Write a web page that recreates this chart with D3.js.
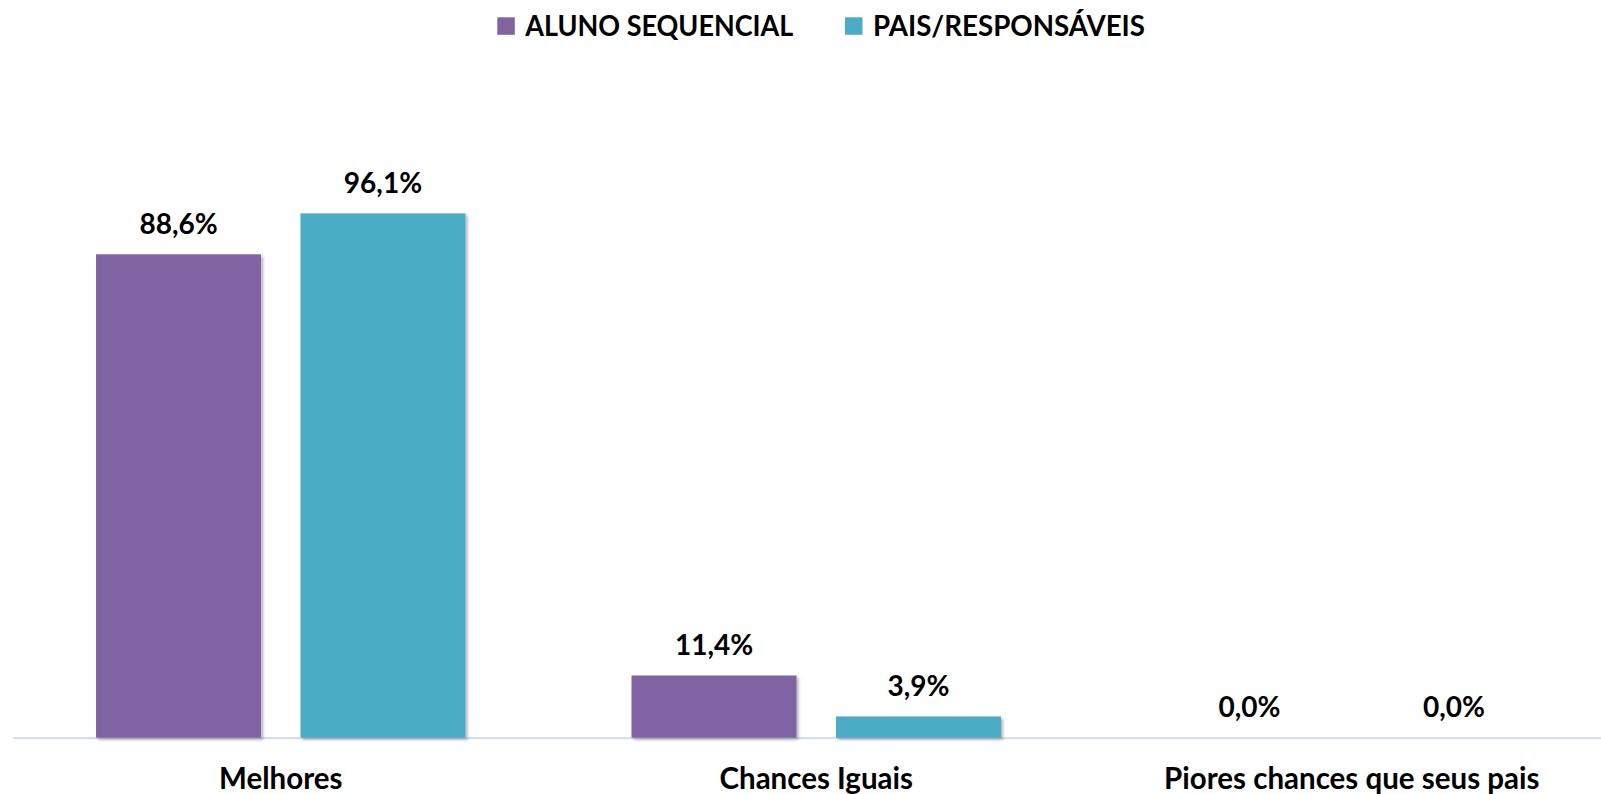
<!DOCTYPE html>
<html>
<head>
<meta charset="utf-8">
<script src="https://cdn.jsdelivr.net/npm/d3@7"></script>
<style>
  html, body { margin: 0; padding: 0; background: #ffffff; }
  svg { display: block; }
  text { font-family: Lato, "Open Sans", sans-serif; font-weight: bold; fill: #000; }
</style>
</head>
<body>
<svg id="chart" width="1601" height="794"></svg>
<script>
const categories = ["Melhores", "Chances Iguais", "Piores chances que seus pais"];
const seriesNames = ["ALUNO SEQUENCIAL", "PAIS/RESPONSÁVEIS"];
const alunoValues = [88.6, 11.4, 0.0];
const paisValues = [96.1, 3.9, 0.0];
const seriesColors = ["#8064A2", "#4BACC6"];

const seriesValues = [alunoValues, paisValues];
const fmt = v => v.toFixed(1).replace(".", ",") + "%";

const svg = d3.select("#chart");

const defs = svg.append("defs");
const f = defs.append("filter").attr("id", "shadow")
  .attr("x", "-10%").attr("y", "-10%").attr("width", "130%").attr("height", "130%");
f.append("feDropShadow").attr("dx", 2).attr("dy", 2).attr("stdDeviation", 1.8)
  .attr("flood-color", "#000").attr("flood-opacity", 0.3);

const x0 = d3.scaleBand().domain(categories).range([13, 1619.5]).paddingInner(0).paddingOuter(0);
const x1 = d3.scaleBand().domain(seriesNames).range([0, x0.bandwidth()])
  .paddingInner(0.193).paddingOuter(0.406);
const y = d3.scaleLinear().domain([0, 100]).range([737.7, 192.1]);

// axis
const axis = svg.append("g").attr("transform", `translate(0,${y(0)})`)
  .call(d3.axisBottom(x0).tickSize(0).tickPadding(0));
axis.select(".domain").attr("stroke", "#d3dff0").attr("stroke-width", 2.2);
axis.selectAll(".tick text")
  .attr("y", 51.5).attr("dy", 0)
  .style("font-size", "29.5px").style("font-family", "Lato, 'Open Sans', sans-serif")
  .style("font-weight", "bold").attr("fill", "#000");

// bars
const rows = categories.map((c, i) => ({ cat: c, vals: seriesNames.map((s, j) => ({ s, j, v: seriesValues[j][i] })) }));
const groups = svg.append("g").selectAll("g").data(rows).join("g")
  .attr("transform", d => `translate(${x0(d.cat)},0)`);

groups.selectAll("rect").data(d => d.vals).join("rect")
  .attr("x", d => x1(d.s))
  .attr("width", x1.bandwidth())
  .attr("y", d => y(d.v))
  .attr("height", d => y(0) - y(d.v))
  .attr("fill", d => seriesColors[d.j])
  .attr("filter", "url(#shadow)");

groups.selectAll("text.val").data(d => d.vals).join("text")
  .attr("class", "val")
  .attr("x", d => x1(d.s) + x1.bandwidth() / 2)
  .attr("y", d => y(d.v) - 20.5)
  .attr("text-anchor", "middle")
  .style("font-size", "28px")
  .text(d => fmt(d.v));

// legend
const legendX = [497.3, 845];
const legendTextWidth = [268, 272];
const leg = svg.append("g").selectAll("g").data(seriesNames).join("g")
  .attr("transform", (d, i) => `translate(${legendX[i]},0)`);
leg.append("rect").attr("x", 0).attr("y", 17.3).attr("width", 17.5).attr("height", 17.5)
  .attr("fill", (d, i) => seriesColors[i]);
leg.append("text").attr("x", 28).attr("y", 35.7).style("font-size", "28px")
  .attr("textLength", (d, i) => legendTextWidth[i])
  .attr("lengthAdjust", "spacingAndGlyphs")
  .text(d => d);
</script>
</body>
</html>
